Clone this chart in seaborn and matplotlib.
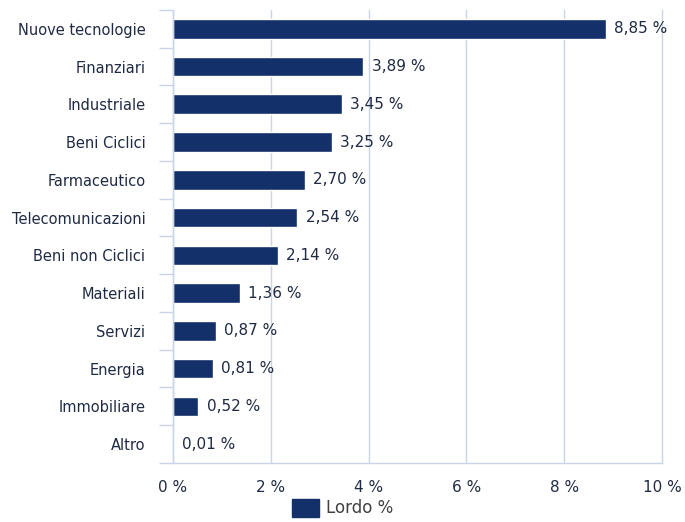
import matplotlib.pyplot as plt
import pandas as pd
import seaborn as sns
from matplotlib.patches import Patch
from matplotlib.ticker import FixedLocator

# 業種別の比率データ
settori = [
    "Nuove tecnologie", "Finanziari", "Industriale", "Beni Ciclici", "Farmaceutico",
    "Telecomunicazioni", "Beni non Ciclici", "Materiali", "Servizi", "Energia",
    "Immobiliare", "Altro",
]
lordo = [8.85, 3.89, 3.45, 3.25, 2.70, 2.54, 2.14, 1.36, 0.87, 0.81, 0.52, 0.01]
x_ticks = [0, 2, 4, 6, 8, 10]

bar_color = "#13306a"
text_color = "#1f2a44"
grid_color = "#c9d5e6"

df = pd.DataFrame({"settore": settori, "lordo": lordo})

sns.set_style("white")
plt.rcParams["font.family"] = ["DejaVu Sans"]

fig = plt.figure(figsize=(6.85, 5.22), dpi=100)
ax = fig.add_axes([0.2526, 0.113, 0.7139, 0.868])

sns.barplot(data=df, x="lordo", y="settore", orient="h", color=bar_color,
            width=0.52, saturation=1, ax=ax)

# 値ラベル
labels = [f"{v:.2f} %".replace(".", ",") for v in lordo]
ax.bar_label(ax.containers[0], labels=labels, padding=6, fontsize=11, color=text_color)

ax.set_xlim(0, 10)
ax.set_ylim(len(settori) - 0.5, -0.5)
ax.set_xticks(x_ticks)
ax.set_xticklabels([f"{t} %" for t in x_ticks], fontsize=11, color=text_color)
ax.tick_params(axis="x", length=0, pad=12)
ax.tick_params(axis="y", which="major", left=False, length=0, pad=20,
               labelsize=10.5, labelcolor=text_color)
ax.yaxis.set_minor_locator(FixedLocator([i - 0.5 for i in range(len(settori) + 1)]))
ax.tick_params(axis="y", which="minor", left=True, length=10, color=grid_color, width=1)

ax.xaxis.grid(True, color=grid_color, linewidth=1)
for gl in ax.get_xgridlines():
    gl.set_clip_on(False)
ax.set_axisbelow(True)
for side in ["top", "right"]:
    ax.spines[side].set_visible(False)
for side in ["left", "bottom"]:
    ax.spines[side].set_color(grid_color)
    ax.spines[side].set_linewidth(1)
ax.set_xlabel("")
ax.set_ylabel("")

# 凡例
handle = Patch(facecolor=bar_color, edgecolor=bar_color, label="Lordo %")
fig.legend(handles=[handle], loc="lower center", bbox_to_anchor=(0.5, -0.02), frameon=False,
           fontsize=12, handlelength=1.6, handleheight=1.3, handletextpad=0.4,
           labelcolor="#404040")

fig.savefig("out.png", dpi=100)
